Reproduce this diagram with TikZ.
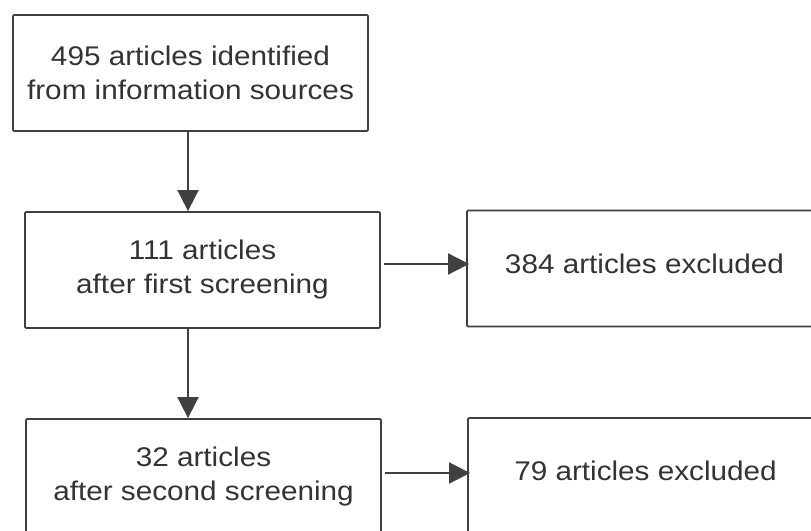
\documentclass[tikz,border=0pt]{standalone}
\usepackage{fontspec}
\setmainfont{Liberation Sans}[FakeStretch=1.1]
\usetikzlibrary{arrows.meta}
\definecolor{linegray}{HTML}{404040}
\definecolor{textgray}{HTML}{333333}
\begin{document}
\begin{tikzpicture}[x=1pt, y=1pt,
  box/.style={draw=linegray, line width=1.8pt, rounded corners=1.2pt,
    minimum width=355pt, minimum height=116pt, align=center,
    text=textgray, font=\fontsize{27}{34}\selectfont},
  outbox/.style={box, text depth=10pt},
  flow/.style={draw=linegray, line width=1.8pt,
    -{Triangle[width=21pt,length=21pt]}}]

\useasboundingbox (0,0) rectangle (811,530);
\clip (0,0) rectangle (811,530);

\node[box] (found) at (190.5,457) {495 articles identified\\from information sources};

\node[box] (first) at (202.5,260) {111 articles\\after first screening};
\node[outbox] (excl1) at (644.5,261.5) {384 articles excluded};

\node[box] (second) at (203.5,53) {32 articles\\after second screening};
\node[outbox] (excl2) at (645.5,54) {79 articles excluded};

\draw[flow] ([xshift=-2.5pt]found.south) -- ([xshift=-2.5pt]found.south |- first.north);
\draw[flow] ([xshift=-14.5pt]first.south) -- ([xshift=-14.5pt]first.south |- second.north);

\draw[flow] ([xshift=3pt,yshift=6pt]first.east) -- ([xshift=3pt,yshift=6pt]first.east -| excl1.west);
\draw[flow] ([xshift=3pt,yshift=4pt]second.east) -- ([xshift=3pt,yshift=4pt]second.east -| excl2.west);
\end{tikzpicture}
\end{document}
